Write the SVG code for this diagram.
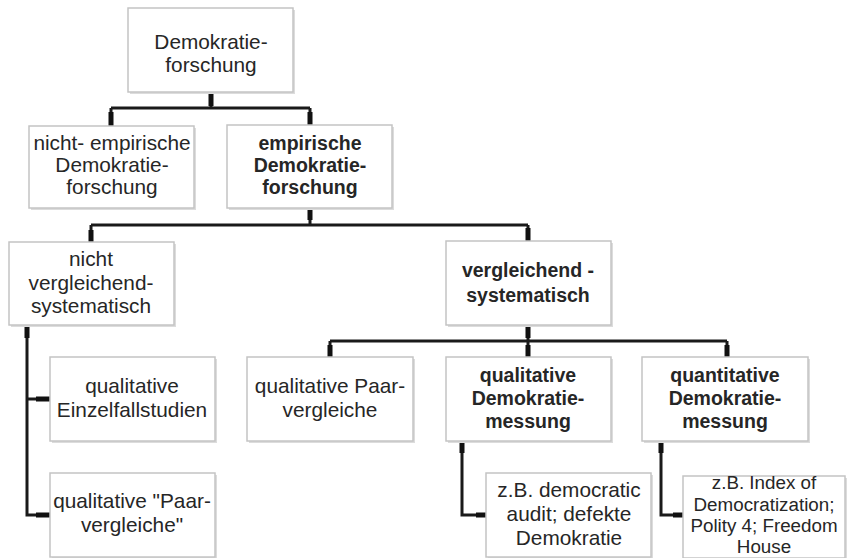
<svg xmlns="http://www.w3.org/2000/svg" width="848" height="558" viewBox="0 0 848 558">
<style>
.box{fill:#fff;stroke:#c4c4c4;stroke-width:1.5}
.sh{fill:#dcdcdc}
text{font-family:"Liberation Sans",Arial,sans-serif;font-size:20.8px;fill:#262626;text-anchor:middle}
.b{font-weight:bold;font-size:19.5px}
.s{font-size:18.8px}
.ln{fill:none;stroke:#1a1a1a;stroke-width:3}
.st{fill:none;stroke:#111;stroke-width:5}
</style>
<rect width="848" height="558" fill="#fff"/>
<g id="connectors">
<path class="ln" d="M211,92 V108 M111,108 H310 M111,108 V126 M310,108 V126"/>
<path class="st" d="M211,92 V106 M111,112 V126 M310,112 V126"/>
<path class="ln" d="M310,208 V225 M91,225 H528 M91,225 V242 M528,225 V241"/>
<path class="st" d="M310,208 V220 M91,230 V242 M528,228 V241"/>
<path class="ln" d="M528,325 V341 M330,341 H727 M330,341 V357 M528,341 V357 M727,341 V357"/>
<path class="st" d="M528,325 V338 M330,345 V357 M528,345 V357 M727,345 V357"/>
<path class="ln" d="M27,325 V515 H50 M27,399 H50"/>
<path class="st" d="M27,325 V338 M36,399 H50 M36,515 H50"/>
<path class="ln" d="M462,441 V515 H486"/>
<path class="st" d="M462,441 V453 M476,515 H486"/>
<path class="ln" d="M661,441 V515 H683"/>
<path class="st" d="M661,441 V453 M673,515 H683"/>
</g>
<g id="n1"><rect class="sh" x="130" y="10" width="165" height="84"/><rect class="box" x="128" y="8" width="165" height="84"/><text x="211" y="49">Demokratie-</text><text x="211" y="72">forschung</text></g>
<g id="n2"><rect class="sh" x="31" y="128" width="165" height="82"/><rect class="box" x="29" y="126" width="165" height="82"/><text x="112" y="150">nicht- empirische</text><text x="112" y="172">Demokratie-</text><text x="112" y="194">forschung</text></g>
<g id="n3"><rect class="sh" x="229" y="127" width="165" height="83"/><rect class="box" x="227" y="125" width="165" height="83"/><text class="b" x="310" y="150">empirische</text><text class="b" x="310" y="172">Demokratie-</text><text class="b" x="310" y="194">forschung</text></g>
<g id="n4"><rect class="sh" x="11" y="244" width="165" height="83"/><rect class="box" x="9" y="242" width="165" height="83"/><text x="91" y="266">nicht</text><text x="91" y="290">vergleichend-</text><text x="91" y="313">systematisch</text></g>
<g id="n5"><rect class="sh" x="448" y="243" width="165" height="84"/><rect class="box" x="446" y="241" width="165" height="84"/><text class="b" x="528" y="277">vergleichend -</text><text class="b" x="528" y="302">systematisch</text></g>
<g id="n6"><rect class="sh" x="52" y="359" width="165" height="84"/><rect class="box" x="50" y="357" width="165" height="84"/><text x="132" y="393">qualitative</text><text x="132" y="417">Einzelfallstudien</text></g>
<g id="n7"><rect class="sh" x="52" y="475" width="165" height="84"/><rect class="box" x="50" y="473" width="165" height="84"/><text x="132" y="508">qualitative "Paar-</text><text x="132" y="532">vergleiche"</text></g>
<g id="n8"><rect class="sh" x="249" y="359" width="166" height="84"/><rect class="box" x="247" y="357" width="166" height="84"/><text x="330" y="393">qualitative Paar-</text><text x="330" y="417">vergleiche</text></g>
<g id="n9"><rect class="sh" x="448" y="359" width="165" height="84"/><rect class="box" x="446" y="357" width="165" height="84"/><text class="b" x="528" y="382">qualitative</text><text class="b" x="528" y="405">Demokratie-</text><text class="b" x="528" y="428">messung</text></g>
<g id="n10"><rect class="sh" x="644" y="359" width="166" height="84"/><rect class="box" x="642" y="357" width="166" height="84"/><text class="b" x="725" y="382">quantitative</text><text class="b" x="725" y="405">Demokratie-</text><text class="b" x="725" y="428">messung</text></g>
<g id="n11"><rect class="sh" x="488" y="475" width="165" height="84"/><rect class="box" x="486" y="473" width="165" height="84"/><text x="569" y="497">z.B. democratic</text><text x="569" y="521">audit; defekte</text><text x="569" y="545">Demokratie</text></g>
<g id="n12"><rect class="sh" x="685" y="478" width="162" height="82"/><rect class="box" x="683" y="476" width="162" height="82"/><text class="s" x="764" y="489">z.B. Index of</text><text class="s" x="764" y="511">Democratization;</text><text class="s" x="764" y="532">Polity 4; Freedom</text><text class="s" x="764" y="553">House</text></g>
</svg>
